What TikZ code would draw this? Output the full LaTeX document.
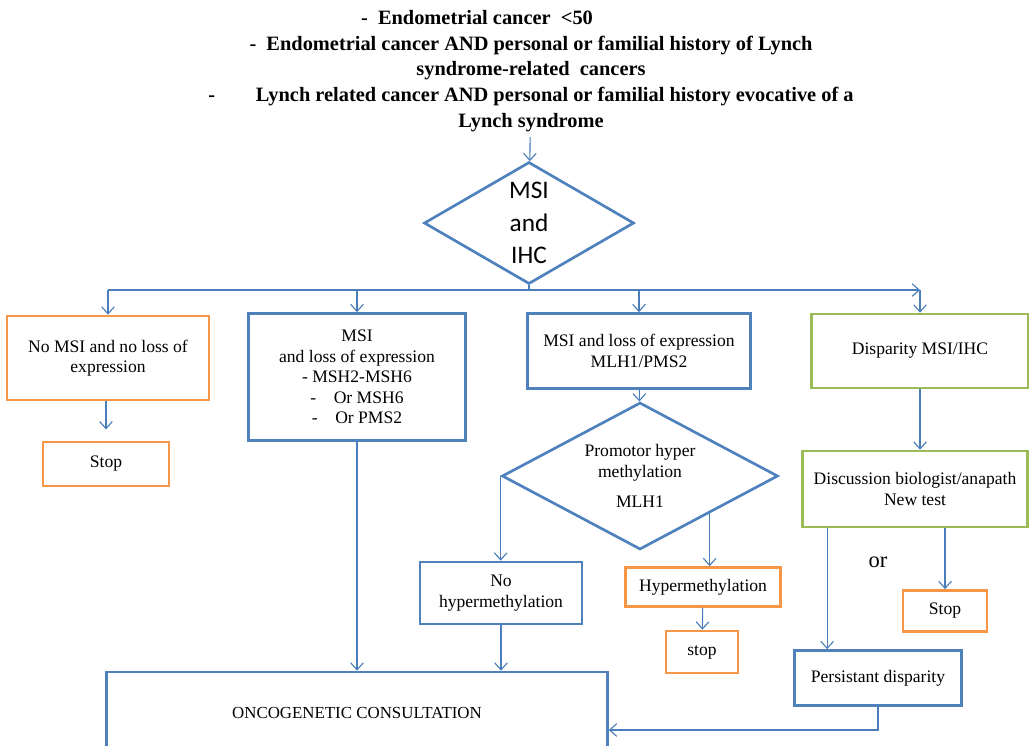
\documentclass[tikz,border=0pt]{standalone}
\usepackage{fontspec}
\setmainfont{Liberation Serif}
\newfontfamily\diafont{Carlito}
\usetikzlibrary{arrows.meta,positioning,shapes.geometric}
\definecolor{boxblue}{HTML}{4F81BD}
\definecolor{boxorange}{HTML}{F79646}
\definecolor{boxgreen}{HTML}{9BBB59}
\definecolor{linkblue}{HTML}{4A7EBB}
\newcommand{\pxl}{0.025cm}

\begin{document}
\begin{tikzpicture}[
  x=\pxl, y=-\pxl,
  box/.style={draw, line width=1.9pt, align=center, inner sep=2pt,
              font=\fontsize{12.5}{14.5}\selectfont},
  bluebox/.style={box, draw=boxblue},
  orangebox/.style={box, draw=boxorange},
  greenbox/.style={box, draw=boxgreen},
  test/.style={diamond, draw=boxblue, line width=1.9pt, inner sep=0pt, align=center},
  link/.style={draw=linkblue, line width=0.8pt, -{Straight Barb[length=5pt,width=9pt]}},
]
  \useasboundingbox (0,0) rectangle (1029,745);

  % Inclusion criteria
  \node[font=\fontsize{14.5}{18.4}\selectfont\bfseries, align=center] (crit) at (531,71)
    {-~~Endometrial cancer~~<50\hspace*{2.7cm}\\
     -~~Endometrial cancer AND personal or familial history of Lynch\\
     syndrome-related~~cancers\\
     -\hspace{2em}Lynch related cancer AND personal or familial history evocative of a\\
     Lynch syndrome};

  % First test
  \node[test, aspect=1.75, minimum width=210*\pxl, minimum height=122*\pxl,
        font=\diafont\fontsize{18}{23}\selectfont] (msi) at (529,223) {MSI\\and\\IHC};
  \draw[link] (crit) -- (msi);

  % Results of MSI and IHC
  \node[orangebox, minimum width=202*\pxl, minimum height=84*\pxl] (nomsi) at (108,358)
    {No MSI and no loss of\\expression};
  \node[bluebox, minimum width=217*\pxl, minimum height=127*\pxl] (msh) at (357,377)
    {MSI\\and loss of expression\\- MSH2-MSH6\\-\quad Or MSH6\\-\quad Or PMS2};
  \node[bluebox, minimum width=223*\pxl, minimum height=75*\pxl] (mlh) at (639,351)
    {MSI and loss of expression\\MLH1/PMS2};
  \node[greenbox, minimum width=217*\pxl, minimum height=74*\pxl] (disp) at (920,351)
    {Disparity MSI/IHC};

  \coordinate (split) at (529,290);
  \draw[draw=linkblue, line width=0.8pt] (msi.south) -- (split);
  \draw[link] (nomsi.north |- split) -- (disp.north |- split);
  \foreach \b in {nomsi, msh, mlh, disp}
    \draw[link] (\b.north |- split) -- (\b.north);

  % No MSI branch
  \node[orangebox, minimum width=126*\pxl, minimum height=44*\pxl] (stopa) at (106,464) {Stop};
  \draw[link, shorten >=8pt] (nomsi.south -| stopa.north) -- (stopa.north);

  % MLH1 branch
  \node[test, aspect=1.88, minimum width=276*\pxl, minimum height=147*\pxl,
        font=\fontsize{12.5}{14.5}\selectfont] (promo) at (640,476)
    {Promotor hyper\\methylation\\[7pt]MLH1};
  \draw[link] (mlh) -- (promo);
  \node[bluebox, minimum width=162*\pxl, minimum height=62*\pxl] (nohyp) at (501,593)
    {No\\hypermethylation};
  \node[orangebox, minimum width=155*\pxl, minimum height=39*\pxl] (hyper) at (703,587)
    {Hypermethylation};
  \node[orangebox, minimum width=72*\pxl, minimum height=42*\pxl] (stopb) at (702,652) {stop};
  \draw[link] (promo.west) -- (promo.west |- nohyp.north);
  \draw[link] (promo.south east) -- (promo.south east |- hyper.north);
  \draw[link] (hyper) -- (stopb);

  % Disparity branch
  \node[greenbox, minimum width=225*\pxl, minimum height=76*\pxl] (discuss) at (915,489)
    {Discussion biologist/anapath\\New test};
  \draw[link] (disp) -- (disp.south |- discuss.north);
  \node[font=\fontsize{16}{18}\selectfont] (or) at (878,562) {or};
  \node[orangebox, minimum width=84*\pxl, minimum height=41*\pxl] (stopc) at (945,611) {Stop};
  \node[bluebox, minimum width=167*\pxl, minimum height=55*\pxl] (persist) at (878,678)
    {Persistant disparity};
  \draw[link] (stopc.north |- discuss.south) -- (stopc.north);
  \draw[link] ([xshift=26*\pxl]discuss.south west) coordinate (pl) -- (pl |- persist.north);

  % Consultation
  \node[bluebox, minimum width=501*\pxl, minimum height=116*\pxl] (consult) at (357,730) {};
  \node[font=\fontsize{12}{14}\selectfont] (consulttxt) at (357,713) {ONCOGENETIC CONSULTATION};
  \draw[link] (msh.south) -- (msh.south |- consult.north);
  \draw[link] (nohyp.south) -- (nohyp.south |- consult.north);
  \draw[link] (persist.south) |- (consult.east);
\end{tikzpicture}
\end{document}
